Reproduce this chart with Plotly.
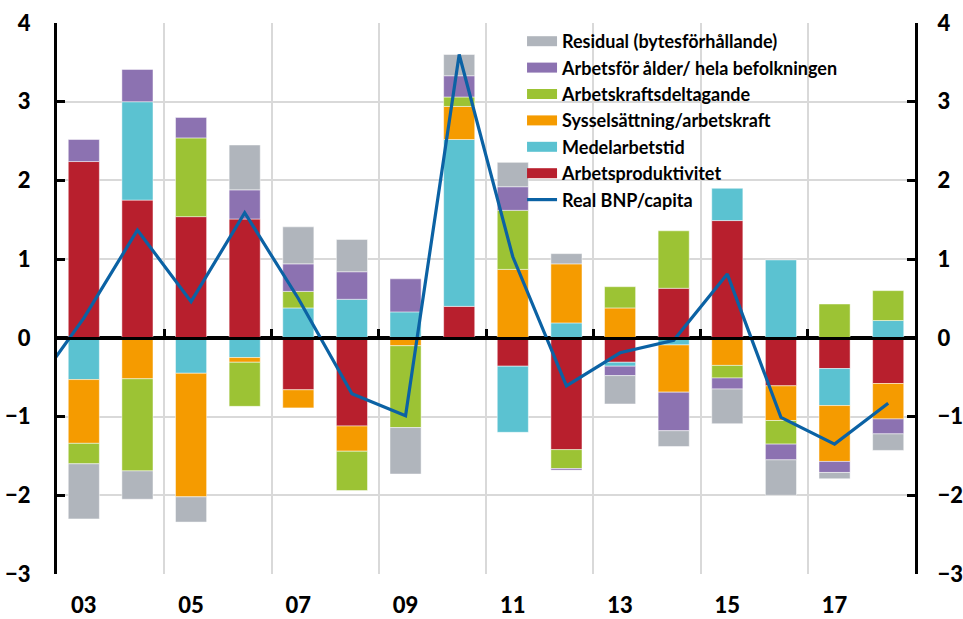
import plotly.graph_objects as go

years = list(range(2003, 2019))
line_years = list(range(2002, 2019))
tick_years = [2003, 2005, 2007, 2009, 2011, 2013, 2015, 2017]
tick_labels = ["03", "05", "07", "09", "11", "13", "15", "17"]
sep_years = [2004.5, 2006.5, 2008.5, 2010.5, 2012.5, 2014.5, 2016.5]

# bidrag per komponent, procentenheter
produktivitet = [2.24, 1.75, 1.54, 1.51, -0.66, -1.12, None, 0.40, -0.36, -1.42, -0.31, 0.63, 1.49, -0.61, -0.39, -0.58]
medelarbetstid = [-0.53, 1.25, -0.45, -0.25, 0.38, 0.49, 0.33, 2.12, -0.84, 0.19, -0.05, -0.09, 0.41, 0.99, -0.47, 0.22]
sysselsattning = [-0.81, -0.52, -1.57, -0.06, -0.23, -0.32, -0.10, 0.42, 0.87, 0.75, 0.38, -0.60, -0.35, -0.44, -0.71, -0.45]
deltagande = [-0.26, -1.17, 1.00, -0.56, 0.21, -0.50, -1.04, 0.12, 0.75, -0.24, 0.27, 0.73, -0.16, -0.30, 0.43, 0.38]
arbetsfor = [0.28, 0.41, 0.26, 0.37, 0.35, 0.35, 0.42, 0.27, 0.30, -0.02, -0.12, -0.49, -0.14, -0.20, -0.14, -0.19]
residual = [-0.70, -0.36, -0.32, 0.57, 0.47, 0.41, -0.59, 0.27, 0.31, 0.13, -0.36, -0.20, -0.44, -0.45, -0.08, -0.21]
bnp_capita = [-0.70, 0.25, 1.37, 0.46, 1.59, 0.50, -0.71, -0.99, 3.60, 1.03, -0.61, -0.19, -0.03, 0.81, -1.01, -1.35, -0.83]

serier = [
    ("Arbetsproduktivitet", produktivitet, "#B81F2D"),
    ("Medelarbetstid", medelarbetstid, "#5BC2D1"),
    ("Sysselsättning/arbetskraft", sysselsattning, "#F59B00"),
    ("Arbetskraftsdeltagande", deltagande, "#9CC334"),
    ("Arbetsför ålder/ hela befolkningen", arbetsfor, "#8C72B1"),
    ("Residual (bytesförhållande)", residual, "#B0B5BC"),
]

font = "Lato, 'Open Sans', sans-serif"
grid = "#D9D9D9"

fig = go.Figure()
rank = 60
for namn, vals, col in serier:
    fig.add_trace(go.Bar(x=years, y=vals, name=namn, marker_color=col,
                         marker_line=dict(color="rgba(255,255,255,0.6)", width=0.8),
                         width=0.58, showlegend=False))
    # bredare legendruta som i originalet
    fig.add_trace(go.Scatter(x=[None], y=[None], name=namn, mode="lines",
                             line=dict(color=col, width=12), legendrank=rank,
                             hoverinfo="skip"))
    rank -= 10

fig.add_trace(go.Scatter(x=line_years, y=bnp_capita, name="Real BNP/capita", mode="lines",
                         line=dict(color="#0B62A4", width=3.2), legendrank=100))

# osynlig trace for nollinjeaxeln och hogeraxeln
fig.add_trace(go.Scatter(x=[2010], y=[0], xaxis="x2", yaxis="y2", mode="markers",
                         marker=dict(opacity=0), showlegend=False, hoverinfo="skip"))

yax = dict(range=[-3, 4], dtick=1, showline=True, linecolor="black", linewidth=3,
           ticks="inside", ticklen=8, tickwidth=3, tickcolor="black",
           tickfont=dict(family=font, size=22, color="black", weight=900),
           fixedrange=True, automargin=False)

fig.update_layout(
    width=963, height=619,
    margin=dict(l=57, r=48, t=23, b=45),
    plot_bgcolor="white", paper_bgcolor="white",
    barmode="relative",
    font=dict(family=font, color="black"),
    xaxis=dict(range=[2002.5, 2018.5], tickvals=tick_years, ticktext=tick_labels,
               showgrid=False, zeroline=False, showline=False, ticks="",
               tickfont=dict(family=font, size=22, color="black", weight=900),
               ticklabelstandoff=16, automargin=False),
    xaxis2=dict(range=[2002.5, 2018.5], overlaying="x", anchor="free", position=3 / 7,
                tickvals=sep_years, showticklabels=False, ticks="inside", ticklen=8,
                tickwidth=3, tickcolor="black", showgrid=True, gridcolor=grid, gridwidth=1.5,
                showline=True, linecolor="black", linewidth=3, zeroline=False,
                automargin=False),
    yaxis=dict(**yax, showgrid=True, gridcolor=grid, gridwidth=1.5, ticklabelstandoff=19,
               zeroline=True, zerolinecolor="black", zerolinewidth=3),
    yaxis2=dict(**yax, overlaying="y", side="right", showgrid=False, zeroline=False,
                ticklabelstandoff=15),
    legend=dict(x=0.542, y=1.0, xanchor="left", yanchor="top", bgcolor="rgba(0,0,0,0)",
                font=dict(family=font, size=18, color="black", weight="bold"),
                traceorder="normal", itemwidth=30),
    showlegend=True,
)

fig.write_html("out.html", config={"displayModeBar": False},
               post_script="document.body.style.margin='0';")
